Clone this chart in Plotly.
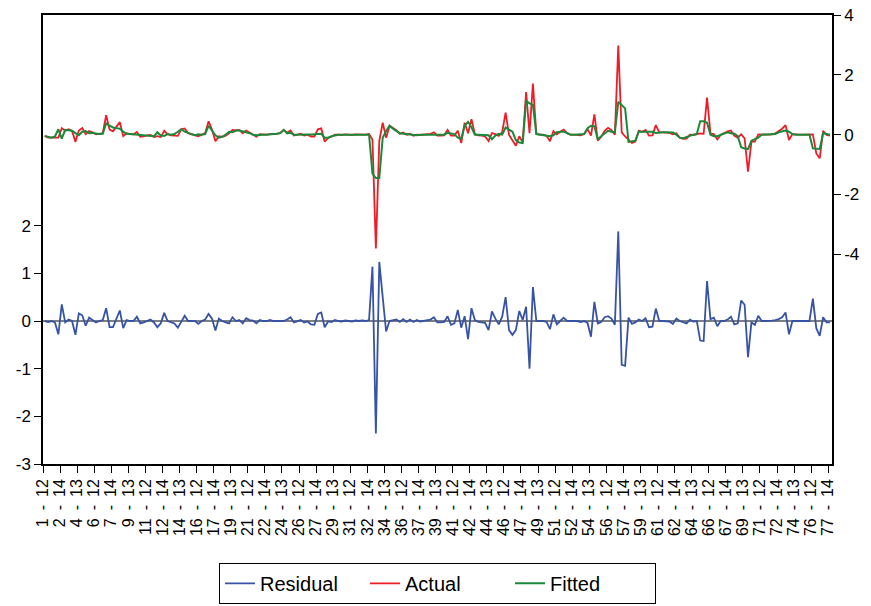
import plotly.graph_objects as go

# Panel identifiers (cross-section - period)
cross_sections = list(range(1, 78))
periods = [12, 13, 14]
obs_labels = [f"{c}\u2002-\u2002{p}" for c in cross_sections for p in periods]

fitted = [
    -0.04, -0.08, -0.10, -0.06, 0.18, -0.13, 0.16, 0.15, 0.13, 0.05,
    -0.02, 0.10, 0.12, 0.05, 0.06, 0.04, 0.02, 0.03, 0.38, 0.30,
    0.24, 0.22, 0.20, 0.10, 0.03, 0.02, 0.01, 0.00, -0.02, -0.03,
    -0.02, -0.04, -0.05, 0.08, -0.03, -0.04, 0.02, 0.00, 0.02, 0.10,
    0.18, 0.10, 0.05, 0.02, -0.02, 0.01, 0.00, 0.02, 0.30, 0.12,
    -0.02, -0.10, -0.07, 0.00, 0.10, 0.08, 0.14, 0.14, 0.10, 0.08,
    0.05, 0.00, -0.02, 0.00, 0.00, 0.00, 0.00, 0.02, 0.03, 0.05,
    0.16, 0.04, 0.06, 0.00, 0.00, 0.01, 0.00, 0.01, 0.01, 0.02,
    0.03, 0.03, -0.10, -0.10, -0.05, -0.02, 0.00, 0.00, 0.00, 0.00,
    0.00, 0.00, 0.00, 0.00, 0.00, 0.00, -1.30, -1.45, -1.45, -0.10,
    0.12, 0.30, 0.20, 0.12, 0.05, 0.03, 0.02, 0.00, -0.02, -0.02,
    0.00, 0.00, 0.00, 0.00, 0.00, 0.00, 0.00, 0.00, 0.06, 0.05,
    0.02, -0.10, -0.14, 0.30, 0.43, 0.25, 0.00, 0.00, 0.00, -0.02,
    -0.02, -0.15, -0.03, 0.03, 0.00, 0.24, 0.18, 0.10, -0.18, -0.26,
    -0.28, 1.13, 1.05, 1.00, 0.02, 0.00, 0.00, -0.02, -0.05, -0.02,
    0.08, 0.10, 0.10, 0.05, 0.00, 0.00, 0.00, 0.00, 0.02, 0.22,
    0.30, 0.28, -0.15, -0.05, 0.05, 0.13, 0.10, 0.08, 1.10, 1.00,
    0.88, -0.24, -0.22, -0.20, 0.10, 0.10, 0.10, 0.10, 0.10, 0.06,
    0.08, 0.08, 0.08, 0.07, 0.07, 0.00, -0.10, -0.12, -0.08, -0.03,
    0.00, 0.02, 0.45, 0.45, 0.40, 0.00, -0.05, -0.05, 0.00, 0.05,
    0.08, 0.05, 0.03, -0.05, -0.42, -0.46, -0.48, -0.20, -0.15, -0.10,
    0.00, 0.00, 0.00, 0.00, 0.02, 0.08, 0.12, 0.14, 0.10, 0.02,
    0.00, 0.00, 0.00, 0.00, 0.00, -0.46, -0.48, -0.48, 0.05, 0.02,
    0.00,
]

residual = [
    0.00, -0.02, 0.00, -0.03, -0.28, 0.35, -0.03, 0.03, 0.00, -0.29,
    0.16, 0.12, -0.10, 0.07, 0.02, -0.03, 0.00, 0.02, 0.27, -0.13,
    -0.13, 0.05, 0.22, -0.15, 0.02, 0.00, 0.00, 0.09, -0.05, -0.03,
    0.00, 0.03, -0.03, -0.13, -0.05, 0.17, 0.00, -0.02, -0.05, -0.14,
    0.00, 0.11, 0.00, 0.00, 0.00, -0.06, 0.00, 0.03, 0.15, 0.05,
    -0.20, 0.05, 0.00, -0.03, -0.05, 0.08, 0.00, 0.02, -0.05, 0.06,
    0.02, 0.01, -0.05, 0.02, 0.00, 0.00, 0.02, 0.00, 0.00, 0.01,
    0.00, 0.03, 0.08, -0.03, 0.00, 0.02, -0.03, -0.01, -0.07, -0.08,
    0.15, 0.18, -0.13, -0.01, -0.02, 0.02, 0.00, -0.01, 0.01, 0.00,
    -0.01, 0.01, 0.00, 0.01, 0.00, 0.02, 1.14, -2.36, 1.24, 0.50,
    -0.22, 0.00, 0.02, 0.03, -0.02, 0.04, -0.02, 0.03, -0.02, 0.02,
    -0.01, 0.00, 0.02, 0.03, 0.08, -0.03, -0.03, -0.02, 0.10, -0.08,
    -0.05, 0.23, -0.14, 0.10, -0.38, 0.27, 0.02, -0.02, -0.03, -0.04,
    -0.19, 0.20, 0.05, -0.07, 0.09, 0.50, -0.19, -0.29, -0.19, 0.21,
    0.02, 0.30, -1.00, 0.71, 0.00, 0.00, 0.00, -0.02, -0.17, 0.14,
    -0.07, 0.00, 0.07, 0.00, 0.00, 0.00, 0.00, -0.02, 0.00, -0.04,
    -0.33, 0.40, -0.05, -0.02, 0.08, 0.10, 0.05, -0.08, 1.88, -0.92,
    -0.94, 0.07, -0.06, -0.03, 0.03, 0.00, 0.06, -0.13, -0.12, 0.26,
    0.00, 0.00, 0.00, -0.01, -0.06, 0.05, 0.00, -0.02, -0.05, 0.03,
    -0.01, 0.00, -0.41, -0.42, 0.84, 0.04, 0.07, -0.11, 0.00, 0.00,
    0.03, 0.09, -0.07, -0.05, 0.43, 0.34, -0.76, -0.03, -0.08, 0.11,
    0.00, 0.00, 0.00, 0.01, 0.02, 0.04, 0.08, 0.18, -0.28, 0.00,
    0.00, 0.00, 0.00, 0.00, 0.00, 0.47, -0.15, -0.31, 0.08, -0.03,
    -0.03,
]

actual = [
    -0.04, -0.10, -0.10, -0.09, -0.10, 0.22, 0.13, 0.18, 0.13, -0.24,
    0.14, 0.22, 0.02, 0.12, 0.08, 0.01, 0.02, 0.05, 0.65, 0.17,
    0.11, 0.27, 0.42, -0.05, 0.05, 0.02, 0.01, 0.09, -0.07, -0.06,
    -0.02, -0.01, -0.08, -0.05, -0.08, 0.13, 0.02, -0.02, -0.03, -0.04,
    0.18, 0.21, 0.05, 0.02, -0.02, -0.05, 0.00, 0.05, 0.45, 0.17,
    -0.22, -0.05, -0.07, -0.03, 0.05, 0.16, 0.14, 0.16, 0.05, 0.14,
    0.07, 0.01, -0.07, 0.02, 0.00, 0.00, 0.02, 0.02, 0.03, 0.06,
    0.16, 0.07, 0.14, -0.03, 0.00, 0.03, -0.03, 0.00, -0.06, -0.06,
    0.18, 0.21, -0.23, -0.11, -0.07, 0.00, 0.00, -0.01, 0.01, 0.00,
    -0.01, 0.01, 0.00, 0.01, 0.00, 0.02, -0.16, -3.81, -0.21, 0.40,
    -0.10, 0.30, 0.22, 0.15, 0.03, 0.07, 0.00, 0.03, -0.04, 0.00,
    -0.01, 0.00, 0.02, 0.03, 0.08, -0.03, -0.03, -0.02, 0.16, -0.03,
    -0.03, 0.13, -0.28, 0.40, 0.05, 0.52, 0.02, -0.02, -0.03, -0.06,
    -0.21, 0.05, 0.02, -0.04, 0.09, 0.74, -0.01, -0.19, -0.37, -0.05,
    -0.26, 1.43, 0.05, 1.71, 0.02, 0.00, 0.00, -0.04, -0.22, 0.12,
    0.01, 0.10, 0.17, 0.05, 0.00, 0.00, 0.00, -0.02, 0.02, 0.18,
    -0.03, 0.68, -0.20, -0.07, 0.13, 0.23, 0.15, 0.00, 2.98, 0.08,
    -0.06, -0.17, -0.28, -0.23, 0.13, 0.10, 0.16, -0.03, -0.02, 0.32,
    0.08, 0.08, 0.08, 0.06, 0.01, 0.05, -0.10, -0.14, -0.13, 0.00,
    -0.01, 0.02, 0.04, 0.03, 1.24, 0.04, 0.02, -0.16, 0.00, 0.05,
    0.11, 0.14, -0.04, -0.10, 0.01, -0.12, -1.24, -0.23, -0.23, 0.01,
    0.00, 0.00, 0.00, 0.01, 0.04, 0.12, 0.20, 0.32, -0.18, 0.02,
    0.00, 0.00, 0.00, 0.00, 0.00, 0.01, -0.63, -0.79, 0.13, -0.01,
    -0.03,
]

left_ticks = [-3, -2, -1, 0, 1, 2]
right_ticks = [-4, -2, 0, 2, 4]

positions = [i + 0.5 for i in range(len(obs_labels))]
tick_idx = list(range(0, len(obs_labels), 5))

FONT = "Liberation Sans, Arial, sans-serif"

fig = go.Figure()
fig.add_trace(go.Scatter(x=positions, y=residual, name="Residual", mode="lines",
                         line=dict(color="#3653a5", width=1.8), yaxis="y"))
fig.add_trace(go.Scatter(x=positions, y=actual, name="Actual", mode="lines",
                         line=dict(color="#ee1c25", width=1.8), yaxis="y2"))
fig.add_trace(go.Scatter(x=positions, y=fitted, name="Fitted", mode="lines",
                         line=dict(color="#1a8a3a", width=2.0), yaxis="y2"))

# residual zero line
fig.add_shape(type="line", xref="paper", yref="y", x0=0, x1=1, y0=0, y1=0,
              line=dict(color="#555555", width=1.5), layer="below")

fig.update_layout(
    width=871, height=606,
    margin=dict(l=43, r=39, t=15, b=142, autoexpand=False),
    paper_bgcolor="white", plot_bgcolor="white",
    font=dict(family=FONT, size=17, color="black"),
    showlegend=True,
    legend=dict(orientation="h", x=0.5, xanchor="center", y=-0.3115, yanchor="bottom",
                bordercolor="black", borderwidth=1, font=dict(size=20),
                entrywidth=100, entrywidthmode="pixels"),
    xaxis=dict(range=[0, len(obs_labels) + 0.1], tickmode="array",
               tickvals=tick_idx, ticktext=[obs_labels[i] for i in tick_idx],
               tickangle=-90, ticks="outside", ticklen=7, tickcolor="black",
               showline=True, linecolor="black", linewidth=1.5, mirror=True,
               showgrid=False, zeroline=False, tickfont=dict(size=16),
               automargin=False),
    yaxis=dict(range=[-3, 6.42], tickmode="array", tickvals=left_ticks,
               ticktext=[str(t) for t in left_ticks], ticks="outside", ticklen=7,
               tickcolor="black", showline=True, linecolor="black", linewidth=1.5,
               showgrid=False, zeroline=False, automargin=False),
    yaxis2=dict(range=[-11.02, 4.005], overlaying="y", side="right", tickmode="array",
                tickvals=right_ticks, ticktext=[str(t) for t in right_ticks],
                ticks="outside", ticklen=7, tickcolor="black", showline=True,
                linecolor="black", linewidth=1.5, showgrid=False, zeroline=False,
                automargin=False),
)

fig.write_html("out.html", config={"displayModeBar": False},
               post_script="document.body.style.margin='0';document.body.style.overflow='hidden';")
